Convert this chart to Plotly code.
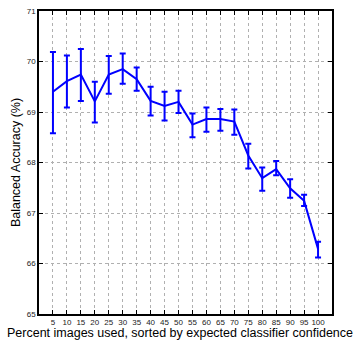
import plotly.graph_objects as go

pct = [5, 10, 15, 20, 25, 30, 35, 40, 45, 50, 55, 60, 65, 70, 75, 80, 85, 90, 95, 100]
acc = [69.40, 69.61, 69.74, 69.21, 69.74, 69.85, 69.65, 69.22, 69.12, 69.20,
       68.75, 68.86, 68.86, 68.81, 68.14, 67.69, 67.87, 67.49, 67.24, 66.29]
upper = [70.19, 70.12, 70.25, 69.60, 70.11, 70.16, 69.88, 69.50, 69.40, 69.42,
         68.97, 69.09, 69.06, 69.05, 68.37, 67.90, 68.03, 67.67, 67.36, 66.43]
lower = [68.58, 69.09, 69.22, 68.79, 69.36, 69.56, 69.42, 68.93, 68.83, 68.98,
         68.50, 68.61, 68.63, 68.55, 67.88, 67.44, 67.75, 67.30, 67.14, 66.12]
yticks = [65, 66, 67, 68, 69, 70, 71]

err_plus = [u - a for u, a in zip(upper, acc)]
err_minus = [a - l for a, l in zip(acc, lower)]

FONT = "Liberation Sans, Arial, sans-serif"
W, H = 356, 341
ML, MR, MT, MB = 39, 24, 11, 27

fig = go.Figure()
fig.add_trace(go.Scatter(
    x=pct, y=acc, mode="lines",
    line=dict(color="#0000ff", width=2),
    error_y=dict(type="data", symmetric=False, array=err_plus, arrayminus=err_minus,
                 color="#0000ff", thickness=2, width=3),
    showlegend=False,
))

axis_common = dict(
    showline=True, linecolor="black", linewidth=1.5, mirror="ticks",
    ticks="inside", ticklen=4, tickcolor="black", tickwidth=1,
    showgrid=True, gridcolor="#b0b0b0", griddash="dot", gridwidth=1,
    zeroline=False, automargin=False, tickangle=0,
    tickfont=dict(family=FONT, size=8, color="#222"),
)

fig.update_xaxes(
    range=[0, 105], tickvals=pct, ticktext=[str(p) for p in pct],
    **axis_common,
)
fig.update_yaxes(
    range=[65, 71], tickvals=yticks, ticktext=[str(v) for v in yticks],
    title=dict(text="Balanced Accuracy (%)",
               font=dict(family=FONT, size=12.5, color="black"),
               standoff=3),
    **axis_common,
)

fig.add_annotation(
    text="Percent images used, sorted by expected classifier confidence",
    xref="paper", yref="paper",
    x=(180 - ML) / (W - ML - MR), y=(H - MB - 333) / (H - MT - MB),
    xanchor="center", yanchor="middle", showarrow=False,
    font=dict(family=FONT, size=12.5, color="black"),
)

fig.update_layout(
    width=W, height=H,
    margin=dict(l=ML, r=MR, t=MT, b=MB, autoexpand=False),
    paper_bgcolor="white", plot_bgcolor="white",
)

fig.write_html(
    "out.html",
    config={"displayModeBar": False},
    post_script="document.body.style.margin='0';document.body.style.overflow='hidden';",
)
